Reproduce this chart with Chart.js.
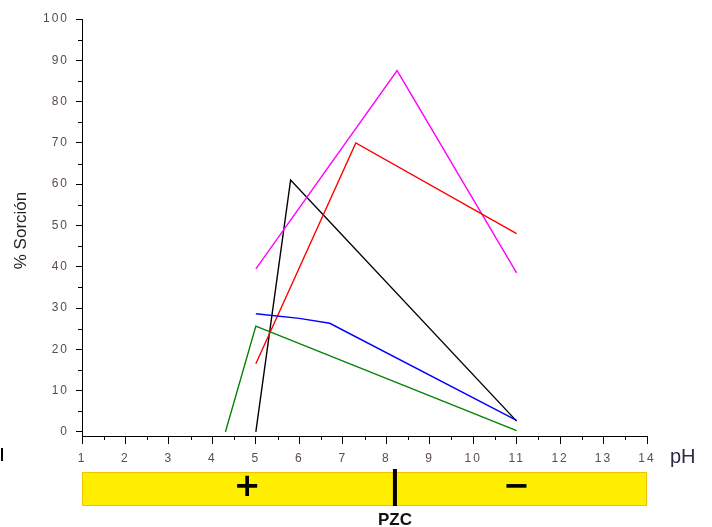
<!DOCTYPE html>
<html>
<head>
<meta charset="utf-8">
<script src="https://cdn.jsdelivr.net/npm/chart.js@4.4.1/dist/chart.umd.min.js"></script>
<style>
html, body { margin: 0; padding: 0; background: #fff; }
</style>
</head>
<body>
<canvas id="sorcionChart" width="712" height="527"></canvas>
<script>
// ticks
const xTicks = [1, 2, 3, 4, 5, 6, 7, 8, 9, 10, 11, 12, 13, 14];
const yTicks = [0, 10, 20, 30, 40, 50, 60, 70, 80, 90, 100];
const pzc = 8.2;

// series (pH vs % sorcion)
const blackPH = [5.0, 5.8, 11.0];
const blackSorcion = [0, 61, 2.6];

const magentaPH = [5.0, 8.25, 11.0];
const magentaSorcion = [39.5, 87.5, 38.5];

const redPH = [5.0, 7.3, 11.0];
const redSorcion = [16.5, 70, 48];

const bluePH = [5.0, 6.0, 6.7, 11.0];
const blueSorcion = [28.6, 27.5, 26.3, 2.8];

const greenPH = [4.3, 5.0, 11.0];
const greenSorcion = [0, 25.6, 0.3];

const toPoints = (xs, ys) => xs.map((x, i) => ({ x: x, y: ys[i] }));

function serie(xs, ys, color) {
    return {
        data: toPoints(xs, ys),
        borderColor: color,
        borderWidth: 1.4,
        pointRadius: 0,
        tension: 0,
        fill: false
    };
}

// letras espaciadas en los ticks (como el original)
const spacing = {
    id: 'spacing',
    beforeDraw(chart) { chart.ctx.letterSpacing = '2px'; },
    afterDatasetsDraw(chart) { chart.ctx.letterSpacing = '0px'; }
};

// ticks menores, titulo, barra de carga y textos extra
const extras = {
    id: 'extras',
    afterDraw(chart) {
        const c = chart.ctx;
        const xs = chart.scales.x;
        const ys = chart.scales.y;
        const area = chart.chartArea;
        c.save();
        c.letterSpacing = '0px';
        c.strokeStyle = '#000';
        c.lineWidth = 1;
        c.beginPath();
        for (let v = 5; v < 100; v += 10) {
            const py = Math.round(ys.getPixelForValue(v)) + 0.5;
            c.moveTo(area.left - 4, py);
            c.lineTo(area.left, py);
        }
        for (let v = 1.5; v < 14; v += 1) {
            const px = Math.round(xs.getPixelForValue(v)) + 0.5;
            c.moveTo(px, area.bottom);
            c.lineTo(px, area.bottom + 4);
        }
        c.stroke();

        // titulo eje y
        c.save();
        c.translate(21, (area.top + area.bottom) / 2 + 3);
        c.rotate(-Math.PI / 2);
        c.font = '17px "Liberation Sans", Arial, sans-serif';
        c.fillStyle = '#222';
        c.textAlign = 'center';
        c.textBaseline = 'middle';
        c.fillText('% Sorción', 0, 0);
        c.restore();

        // barra amarilla
        const x0 = xs.getPixelForValue(1);
        const x1 = xs.getPixelForValue(14);
        c.fillStyle = '#FFEE00';
        c.fillRect(x0, 472, x1 - x0, 34);
        c.strokeStyle = '#F2C200';
        c.strokeRect(x0 + 0.5, 472.5, x1 - x0 - 1, 33);

        // PZC
        const xp = xs.getPixelForValue(pzc);
        c.fillStyle = '#000';
        c.fillRect(xp - 2, 469, 4, 37);
        c.font = 'bold 17px "Liberation Sans", Arial, sans-serif';
        c.textAlign = 'center';
        c.textBaseline = 'middle';
        c.fillStyle = '#111';
        c.fillText('PZC', xp, 520);

        c.fillStyle = '#000';
        c.font = 'bold 32px "DejaVu Sans", sans-serif';
        c.fillText('+', xs.getPixelForValue(4.8), 488);
        c.fillText('\u2212', xs.getPixelForValue(11.0), 488);

        // etiqueta pH
        c.font = '20px "Liberation Sans", Arial, sans-serif';
        c.fillStyle = '#2d2a48';
        c.textAlign = 'left';
        c.fillText('pH', 670, 457);

        c.fillStyle = '#000';
        c.fillRect(1, 448, 2, 13);
        c.restore();
    }
};

const tickFont = { family: '"Liberation Sans", Arial, sans-serif', size: 12 };

const ctx = document.getElementById('sorcionChart').getContext('2d');
const sorcionChart = new Chart(ctx, {
    type: 'line',
    data: {
        datasets: [
            serie(greenPH, greenSorcion, '#008000'),
            serie(bluePH, blueSorcion, '#0000FF'),
            serie(redPH, redSorcion, '#FF0000'),
            serie(magentaPH, magentaSorcion, '#FF00FF'),
            serie(blackPH, blackSorcion, '#000000')
        ]
    },
    options: {
        responsive: false,
        animation: false,
        layout: { padding: { left: 0, right: 65, top: 19, bottom: 0 } },
        plugins: {
            legend: { display: false },
            tooltip: { enabled: false }
        },
        scales: {
            x: {
                type: 'linear',
                min: 1,
                max: 14,
                afterBuildTicks: s => { s.ticks = xTicks.map(v => ({ value: v })); },
                afterFit: s => { s.height = 91; },
                grid: { drawOnChartArea: false, drawTicks: true, tickLength: 8, tickColor: '#000' },
                border: { color: '#000', width: 1 },
                ticks: { font: tickFont, color: '#5a4a52', padding: 7, maxRotation: 0 }
            },
            y: {
                min: -1,
                max: 100,
                afterBuildTicks: s => { s.ticks = yTicks.map(v => ({ value: v })); },
                afterFit: s => { s.width = 82; },
                grid: { drawOnChartArea: false, drawTicks: true, tickLength: 6, tickColor: '#000' },
                border: { color: '#000', width: 1 },
                ticks: { font: tickFont, color: '#5a4a52', padding: 7 }
            }
        }
    },
    plugins: [spacing, extras]
});
</script>
</body>
</html>
